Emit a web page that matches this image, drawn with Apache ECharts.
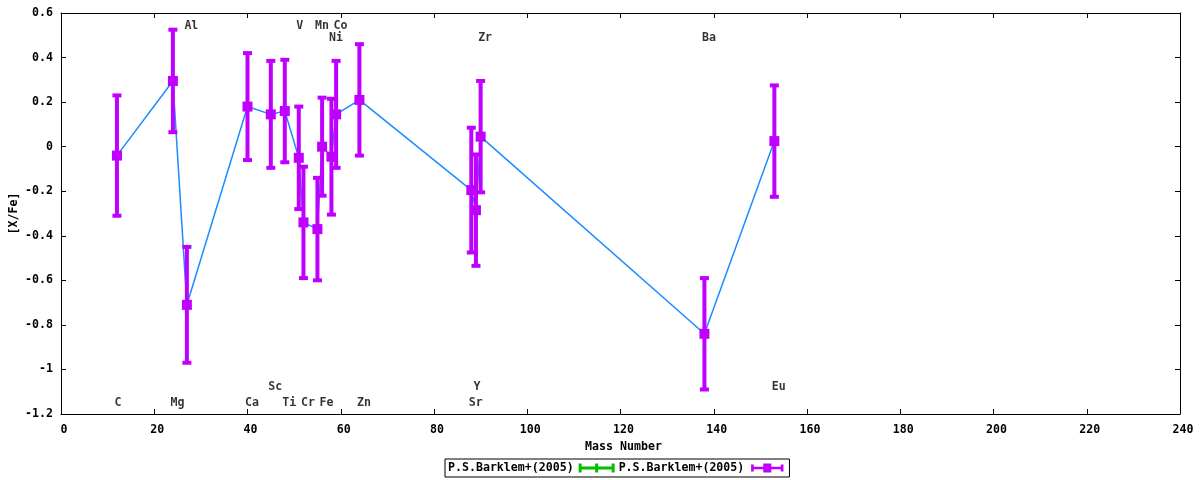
<!DOCTYPE html>
<html>
<head>
<meta charset="utf-8">
<script src="https://cdn.jsdelivr.net/npm/echarts@6/dist/echarts.min.js"></script>
<style>html,body{margin:0;padding:0;background:#fff;}#chart{width:1200px;height:480px;}</style>
</head>
<body>
<div id="chart"></div>
<script>
// ---- data ----
const elements = ['C','Mg','Al','Ca','Sc','Ti','V','Cr','Mn','Fe','Ni','Co','Zn','Sr','Y','Zr','Ba','Eu'];
const massNumbers = [12,24,27,40,45,48,51,52,55,56,58,59,64,88,89,90,138,153];
const xFe = [-0.04,0.295,-0.71,0.18,0.145,0.16,-0.05,-0.34,-0.37,0.0,-0.045,0.145,0.21,-0.195,-0.285,0.045,-0.84,0.025];
const xFeErr = [0.27,0.23,0.26,0.24,0.24,0.23,0.23,0.25,0.23,0.22,0.26,0.24,0.25,0.28,0.25,0.25,0.25,0.25];
const xTicks = [0,20,40,60,80,100,120,140,160,180,200,220,240];
const yTicks = [-1.2,-1,-0.8,-0.6,-0.4,-0.2,0,0.2,0.4,0.6];
const seriesLabel = 'P.S.Barklem+(2005)';

// ---- label layout (rows for element annotations) ----
const labelRowOf = {
  Al:'top1', V:'top1', Mn:'top1', Co:'top1',
  Ni:'top2', Zr:'top2', Ba:'top2',
  C:'bot1', Mg:'bot1', Ca:'bot1', Ti:'bot1', Cr:'bot1', Fe:'bot1', Zn:'bot1', Sr:'bot1',
  Sc:'bot2', Y:'bot2', Eu:'bot2'
};
const rowY = {top1:0.543, top2:0.489, bot1:-1.15, bot2:-1.08};

const FONT = 'DejaVu Sans Mono';
const FS = 11.6;
const errData = massNumbers.map((m,i)=>[m, xFe[i], xFeErr[i]]);
const lineData = massNumbers.map((m,i)=>[m, xFe[i]]);
const labelData = elements.map((e,i)=>({value:[massNumbers[i], rowY[labelRowOf[e]]], name:e}));

function errRender(color, barW, capW, capH, sq) {
  return function(params, api) {
    const x = api.value(0), y = api.value(1), e = api.value(2);
    const c = api.coord([x,y]);
    const hi = api.coord([x,y+e]);
    const lo = api.coord([x,y-e]);
    const st = {fill: color};
    return {type:'group', children:[
      {type:'rect', shape:{x:c[0]-barW/2, y:hi[1], width:barW, height:lo[1]-hi[1]}, style:st},
      {type:'rect', shape:{x:c[0]-capW/2, y:hi[1]-capH/2, width:capW, height:capH}, style:st},
      {type:'rect', shape:{x:c[0]-capW/2, y:lo[1]-capH/2, width:capW, height:capH}, style:st},
      {type:'rect', shape:{x:c[0]-sq/2, y:c[1]-sq/2, width:sq, height:sq}, style:st}
    ]};
  };
}

const axisCommon = {
  type:'value',
  axisLine:{show:true, onZero:false, lineStyle:{color:'#000', width:1}},
  axisTick:{show:true, inside:true, length:5, lineStyle:{color:'#000'}},
  splitLine:{show:false}
};
const txt = {fontFamily:FONT, fontWeight:'bold', fontSize:FS, color:'#000'};

const chart = echarts.init(document.getElementById('chart'), null, {renderer:'canvas'});
chart.setOption({
  animation:false,
  backgroundColor:'#fff',
  grid:{left:61, right:20, top:13, bottom:66, containLabel:false, outerBoundsMode:'none'},
  legend:{
    data:[
      {name:'s1', icon:'path://M0,0H3V3H16.5V0H19.5V3H33V0H36V9H33V6H19.5V9H16.5V6H3V9H0Z'},
      {name:'s2', icon:'path://M0,1H3V3.5H13.5V0H22.5V3.5H33V1H36V9H33V6.5H22.5V10H13.5V6.5H3V9H0Z'}
    ],
    formatter:function(){ return seriesLabel; },
    align:'right',
    left:445, top:459,
    itemWidth:36, itemHeight:9, itemGap:4,
    padding:[3,6,3,3],
    borderColor:'#000', borderWidth:1, borderRadius:0,
    textStyle:txt
  },
  xAxis:[
    Object.assign({}, axisCommon, {
      min:0, max:240, interval:20, position:'bottom',
      name:'Mass Number', nameLocation:'middle', nameGap:27, nameMoveOverlap:false,
      nameTextStyle:Object.assign({padding:[0,0,0,6]}, txt),
      axisLabel:Object.assign({margin:10, padding:[0,0,0,6],
        formatter:function(v){ return xTicks.indexOf(v)>=0 ? String(v) : ''; }}, txt)
    }),
    Object.assign({}, axisCommon, {min:0, max:240, interval:20, position:'top', axisLabel:{show:false}})
  ],
  yAxis:[
    Object.assign({}, axisCommon, {
      min:-1.2, max:0.6, interval:0.2, position:'left',
      name:'[X/Fe]', nameLocation:'middle', nameGap:41, nameRotate:90, nameMoveOverlap:false,
      nameTextStyle:txt,
      axisLabel:Object.assign({margin:8,
        formatter:function(v){
          const t = yTicks.find(k=>Math.abs(k-v)<1e-9);
          if (t===undefined) return '';
          return Math.abs(t)<1e-9 ? '0' : String(t);
        }}, txt)
    }),
    Object.assign({}, axisCommon, {min:-1.2, max:0.6, interval:0.2, position:'right', axisLabel:{show:false}})
  ],
  series:[
    {
      name:'line', type:'line', data:lineData, showSymbol:false, symbol:'none',
      lineStyle:{color:'#1a8cff', width:1.5}, z:1, silent:true
    },
    {
      name:'s1', type:'custom', data:errData, itemStyle:{color:'#00c000'},
      renderItem: errRender('#00c000', 2, 6, 2, 6), z:2
    },
    {
      name:'s2', type:'custom', data:errData, itemStyle:{color:'#c000ff'},
      renderItem: errRender('#c000ff', 4, 9, 4, 10), z:3
    },
    {
      name:'labels', type:'scatter', data:labelData, symbolSize:0, silent:true, z:4,
      label:Object.assign({show:true, position:'inside', align:'left', verticalAlign:'middle', offset:[-2.5,0],
        formatter:function(p){ return p.name; }}, txt)
    }
  ]
});
</script>
</body>
</html>
